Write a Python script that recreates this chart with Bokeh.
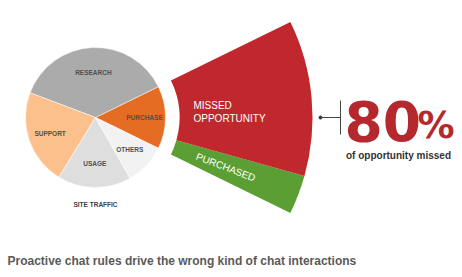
import numpy as np
from bokeh.plotting import figure
from bokeh.models import ColumnDataSource, Range1d
from bokeh.core.properties import value
from bokeh.embed import file_html
from bokeh.resources import INLINE

# ---------------- data ----------------
categories = ["PURCHASE", "RESEARCH", "SUPPORT", "USAGE", "OTHERS"]
shares = [14.5, 37.0, 22.0, 17.0, 9.5]
slice_colors = ["#e56c23", "#ababab", "#fcc08c", "#dedede", "#f2f2f2"]

fan_labels = ["PURCHASED", "MISSED OPPORTUNITY"]
fan_values = [20, 80]
fan_colors = ["#5b9f34", "#c0282d"]

headline_value = 80
headline_caption = "of opportunity missed"
pie_title = "SITE TRAFFIC"
title = "Proactive chat rules drive the wrong kind of chat interactions"

# ---------------- layout ----------------
W, H = 462, 277
cx, cy = 95, H - 117
R = 70
fan_inner, fan_outer = 84, 217
FONT = value("Liberation Sans")
BIG = value("DejaVu Sans")
K = 0.26  # baseline correction factor (fraction of font size)

p = figure(width=W, height=H, output_backend="svg", toolbar_location=None,
           x_range=Range1d(0, W), y_range=Range1d(0, H), min_border=0)
p.axis.visible = False
p.grid.visible = False
p.outline_line_color = None
p.background_fill_color = "white"
p.border_fill_color = "white"

# pie
total = float(sum(shares))
fr = np.array(shares) / total * 2 * np.pi
start0 = -fr[0] / 2
starts = start0 + np.concatenate([[0], np.cumsum(fr)[:-1]])
ends = starts + fr
mids = (starts + ends) / 2
src = ColumnDataSource(dict(start=starts, end=ends, color=slice_colors))
p.wedge(x=cx, y=cy, radius=R, start_angle="start", end_angle="end",
        fill_color="color", line_color="white", line_width=0.5, source=src)

lr = np.array([49, 45, 48, 46, 47])
p.text(x=cx + lr * np.cos(mids), y=cy + lr * np.sin(mids), text=categories,
       text_font=FONT, text_font_style="bold", text_font_size="6.5px",
       text_color="#505050", text_align="center", text_baseline="middle")
p.text(x=[cx], y=[cy - 87], text=[pie_title], text_font=FONT, text_font_style="bold",
       text_font_size="6.5px", text_color="#404040", text_align="center",
       text_baseline="middle")

# fan (exploded purchase slice)
fs, fe = starts[0], ends[0]
ffr = np.array(fan_values) / float(sum(fan_values)) * (fe - fs)
fstarts = fs + np.concatenate([[0], np.cumsum(ffr)[:-1]])
fends = fstarts + ffr
fsrc = ColumnDataSource(dict(start=fstarts, end=fends, color=fan_colors))
p.annular_wedge(x=cx, y=cy, inner_radius=fan_inner, outer_radius=fan_outer,
                start_angle="start", end_angle="end", fill_color="color",
                line_color=None, source=fsrc)

words = fan_labels[1].split(" ")
p.text(x=[cx + 98, cx + 98], y=[cy + 9 + K * 10, cy - 4 + K * 10], text=words,
       text_font=FONT, text_font_size="10px", text_color="white",
       text_align="left", text_baseline="alphabetic")
gmid = (fstarts[0] + fends[0]) / 2
p.text(x=[cx + 108 * np.cos(gmid)], y=[cy + 108 * np.sin(gmid)], text=[fan_labels[0]],
       angle=gmid, text_font=FONT, text_font_size="10px", text_color="white",
       text_align="left", text_baseline="middle")

# connector
p.scatter(x=[cx + 225], y=[cy], size=3, color="#333333")
p.segment(x0=[cx + 225, cx + 245], y0=[cy, cy - 17], x1=[cx + 245, cx + 245],
          y1=[cy, cy + 17], line_color="#444444", line_width=1)

# headline
p.text(x=[cx + 249], y=[cy - 17.5 + K * 55], text=[str(headline_value)], text_font=BIG,
       text_font_style="bold", text_font_size="55px", text_color="#b5292e",
       text_align="left", text_baseline="alphabetic")
p.text(x=[cx + 322], y=[cy - 17.5 + K * 37], text=["%"], text_font=BIG,
       text_font_style="bold", text_font_size="37px", text_color="#b5292e",
       text_align="left", text_baseline="alphabetic")
p.text(x=[cx + 303], y=[cy - 41 + K * 10], text=[headline_caption], text_font=FONT,
       text_font_style="bold", text_font_size="10px", text_color="#333333",
       text_align="center", text_baseline="alphabetic")

# title
p.text(x=[7], y=[H - 264 + K * 12], text=[title], text_font=FONT, text_font_style="bold",
       text_font_size="12px", text_color="#5a5a5a", text_align="left",
       text_baseline="alphabetic")

open("out.html", "w").write(file_html(p, INLINE))
